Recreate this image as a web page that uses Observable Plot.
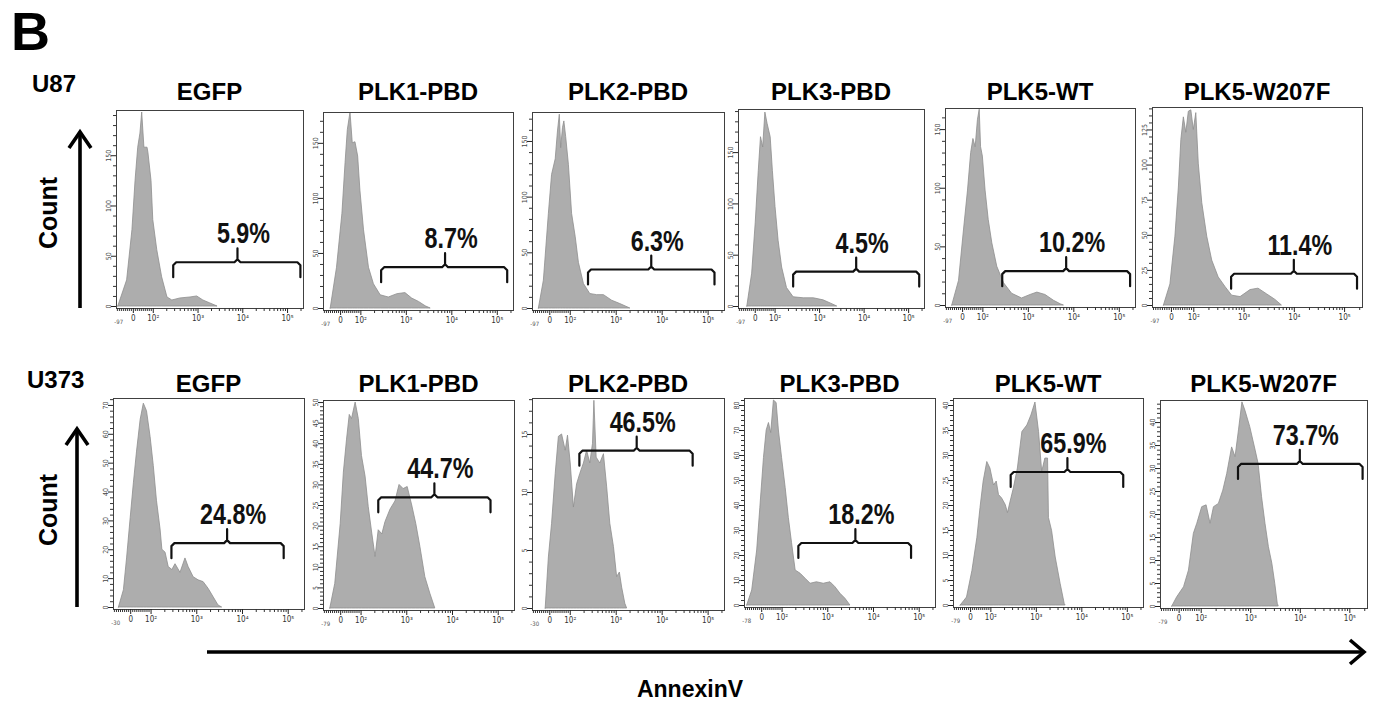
<!DOCTYPE html>
<html><head><meta charset="utf-8">
<script src="https://cdn.jsdelivr.net/npm/d3@7"></script>
<script src="https://cdn.jsdelivr.net/npm/@observablehq/plot@0.6"></script>
<style>
html,body{margin:0;padding:0;background:#fff;}
#fig{position:relative;width:1375px;height:702px;overflow:hidden;background:#fff;}
</style></head><body><div id="fig"></div>
<script>
// ---------------- DATA ----------------
const figureLetter = "B";
const cellLines = ["U87", "U373"];
const conditions = ["EGFP", "PLK1-PBD", "PLK2-PBD", "PLK3-PBD", "PLK5-WT", "PLK5-W207F"];
const yAxisTitle = "Count";
const xAxisTitle = "AnnexinV";

// x positions in biexponential display units (0 → value 0, then one unit per decade)
const xTickU = [0, 0.45, 1.46, 2.47, 3.48];
const xTickLabels = ["0", "10²", "10³", "10⁴", "10⁵"];
const negTickU = -0.33;
const negLabelsU87 = ["-97", "-97", "-97", "-97", "-97", "-97"];
const negLabelsU373 = ["-30", "-79", "-30", "-78", "-79", "-79"];

const percentU87 = ["5.9%", "8.7%", "6.3%", "4.5%", "10.2%", "11.4%"];
const percentU373 = ["24.8%", "44.7%", "46.5%", "18.2%", "65.9%", "73.7%"];

const gateLoU87 = [0.90, 0.90, 0.84, 0.86, 0.88, 1.20];
const gateHiU87 = [3.77, 3.70, 3.62, 3.72, 3.72, 3.73];
const gateMidU87 = [2.35, 2.32, 2.23, 2.29, 2.30, 2.46];
const gateLevelU87 = [44, 37.5, 35, 34, 29.3, 22.6];
const gateLoU373 = [0.90, 0.83, 0.65, 0.81, 0.89, 1.20];
const gateHiU373 = [3.38, 3.31, 3.14, 3.30, 3.39, 3.74];
const gateMidU373 = [2.13, 2.07, 1.91, 2.07, 2.15, 2.46];
const gateLevelU373 = [22.3, 27, 13.6, 25, 26.7, 31];

const yMaxU87 = [195, 178, 176, 192, 168, 141];
const yMaxU373 = [72.4, 50.5, 18.1, 82.8, 41.4, 44.8];
const yMajorU87 = [50, 50, 50, 50, 50, 25];
const yMinorU87 = [10, 10, 10, 10, 10, 5];
const yMajorU373 = [10, 5, 5, 10, 5, 5];
const yMinorU373 = [2, 1, 1, 2, 1, 1];

// histograms: [display unit, count]
const u87_EGFP = [[-0.34,0],[-0.14,26],[-0.02,76],[0.05,125],[0.11,158],[0.16,172],[0.20,193],[0.25,158],[0.32,158],[0.34,153],[0.41,125],[0.45,86],[0.54,56],[0.65,29],[0.77,9],[0.88,6],[1.06,8],[1.29,9],[1.44,10],[1.58,6],[1.74,3],[1.90,0]];
const u87_PLK1 = [[-0.22,0],[-0.08,37],[0.04,86],[0.11,132],[0.16,162],[0.22,178],[0.27,150],[0.33,151],[0.39,138],[0.44,107],[0.52,71],[0.63,37],[0.74,22],[0.89,12],[1.07,10],[1.26,13],[1.44,14],[1.59,9],[1.74,6],[1.89,2],[2.0,0]];
const u87_PLK2 = [[-0.24,0],[-0.13,25],[-0.02,85],[0.05,120],[0.13,134],[0.18,159],[0.22,174],[0.25,144],[0.29,162],[0.32,168],[0.36,154],[0.42,129],[0.49,85],[0.57,64],[0.64,41],[0.75,22],[0.89,13],[1.04,12],[1.19,12],[1.37,7],[1.55,4],[1.77,0]];
const u87_PLK3 = [[-0.18,0],[-0.07,32],[0.01,81],[0.08,132],[0.13,165],[0.18,155],[0.23,189],[0.28,178],[0.35,165],[0.40,132],[0.46,97],[0.53,64],[0.61,38],[0.72,18],[0.87,9],[1.10,8],[1.33,8],[1.55,6],[1.71,3],[1.86,0]];
const u87_PLK5WT = [[-0.23,0],[-0.08,21],[0.03,64],[0.12,98],[0.19,130],[0.24,142],[0.29,135],[0.34,158],[0.38,167],[0.41,135],[0.45,127],[0.51,98],[0.58,73],[0.66,53],[0.77,33],[0.92,19],[1.10,10],[1.32,6],[1.51,9],[1.66,11],[1.84,9],[2.03,4],[2.18,1],[2.25,0]];
const u87_PLK5W207F = [[-0.15,0],[-0.02,15],[0.08,49],[0.15,84],[0.20,118],[0.25,134],[0.30,123],[0.35,138],[0.40,139],[0.45,125],[0.50,137],[0.55,101],[0.62,73],[0.72,49],[0.82,32],[0.95,20],[1.09,13],[1.22,7],[1.39,6],[1.59,11],[1.75,12],[1.92,8],[2.09,4],[2.22,0]];

const u373_EGFP = [[-0.26,0],[-0.15,6],[-0.08,17],[0.0,31],[0.07,43],[0.14,54],[0.22,65],[0.29,70.6],[0.36,68],[0.44,59],[0.51,49],[0.58,37],[0.66,27],[0.70,20],[0.77,19],[0.84,14],[0.92,13],[0.99,15],[1.10,12],[1.21,17],[1.28,14],[1.39,10.5],[1.50,9.4],[1.61,8.8],[1.72,6.5],[1.83,3.6],[1.94,0.7],[2.02,0]];
const u373_PLK1 = [[-0.23,0],[-0.12,6],[0.0,20.5],[0.07,33],[0.14,41],[0.20,47],[0.25,46],[0.33,50],[0.40,46],[0.47,37],[0.55,32],[0.62,24.6],[0.70,18],[0.77,12.5],[0.84,19],[0.92,18],[0.99,21],[1.10,24],[1.21,26],[1.30,30],[1.39,29],[1.48,29.5],[1.58,25],[1.67,20.5],[1.76,15],[1.87,7.6],[1.98,3.6],[2.09,0]];
const u373_PLK2 = [[-0.09,0],[-0.02,4.4],[0.05,7.3],[0.13,11.6],[0.20,14.8],[0.27,15],[0.35,13.6],[0.40,14.9],[0.46,12.5],[0.53,8.7],[0.60,10.7],[0.67,11.6],[0.75,12.5],[0.82,13.6],[0.89,12.5],[0.95,14.2],[0.98,17.9],[1.03,13],[1.11,12.5],[1.19,13.3],[1.26,10.5],[1.33,7.3],[1.41,5.3],[1.48,2.7],[1.54,3.1],[1.59,1.8],[1.66,0.4],[1.70,0]];
const u373_PLK3 = [[-0.32,0],[-0.21,6],[-0.10,22],[-0.03,39],[0.05,59],[0.11,70],[0.16,73],[0.21,69],[0.27,82],[0.33,81],[0.38,70],[0.45,59],[0.53,47],[0.60,35],[0.67,25],[0.75,14],[0.86,12.7],[0.97,10.7],[1.08,8.7],[1.22,9.3],[1.37,8.7],[1.52,9.3],[1.63,7.3],[1.74,4.7],[1.85,2.7],[1.96,0]];
const u373_PLK5WT = [[-0.22,0],[-0.08,1.6],[0.04,6.9],[0.15,13.5],[0.22,19.5],[0.29,24.8],[0.37,28.7],[0.44,27.4],[0.52,24],[0.58,24.8],[0.63,22.1],[0.70,21.4],[0.78,20.1],[0.83,18.5],[0.89,20.8],[0.96,23.4],[1.05,27.4],[1.15,34.7],[1.26,36],[1.35,38],[1.44,40.6],[1.52,34.7],[1.59,26.7],[1.66,29.4],[1.72,29.4],[1.74,17.5],[1.81,14.9],[1.89,9.6],[2.00,4.3],[2.09,0.3],[2.11,0]];
const u373_PLK5W207F = [[-0.14,0],[-0.04,2],[0.10,4.2],[0.20,7.8],[0.30,15.8],[0.37,18],[0.47,21.6],[0.56,22],[0.64,18],[0.71,21.6],[0.81,22.3],[0.90,25.2],[0.98,28.8],[1.08,34.6],[1.15,32.5],[1.22,38.3],[1.29,44.4],[1.35,42.6],[1.45,39],[1.56,33.9],[1.62,31],[1.69,23.8],[1.76,18],[1.83,12.9],[1.90,9.3],[1.96,4.9],[2.01,0.6],[2.03,0]];

// ---------------- LAYOUT (page pixels: left, right, top, zero-baseline) ----------------
const boxesRow = [
  [[116,303,110,306],[323,513,112,308],[532,724,112,308],[738,924,109,306],[945,1135,108,305],[1152,1362,107,305]],
  [[113,304,398,607],[323,514,400,608],[532,724,398,608],[744,935,398,605],[953,1143,398,605],[1160,1367,400,606]]
];
const titleBaseline = [100, 392];
const X_DOMAIN = [-0.38, 3.84];
const FONT = "'Liberation Sans', Arial, Helvetica, sans-serif";
const NARROW = "'Liberation Sans Narrow', 'Arial Narrow', 'DejaVu Sans Condensed', sans-serif";

const rows = [
  {hists:[u87_EGFP,u87_PLK1,u87_PLK2,u87_PLK3,u87_PLK5WT,u87_PLK5W207F], pct:percentU87, lo:gateLoU87, hi:gateHiU87, mid:gateMidU87, lev:gateLevelU87, ymax:yMaxU87, maj:yMajorU87, min:yMinorU87, neg:negLabelsU87},
  {hists:[u373_EGFP,u373_PLK1,u373_PLK2,u373_PLK3,u373_PLK5WT,u373_PLK5W207F], pct:percentU373, lo:gateLoU373, hi:gateHiU373, mid:gateMidU373, lev:gateLevelU373, ymax:yMaxU373, maj:yMajorU373, min:yMinorU373, neg:negLabelsU373}
];

// minor x ticks (biexponential axis)
const xMinor = [];
for (let i = -8; i <= 9; i++) if (i !== 0) xMinor.push(xTickU[0] + i * 0.045);
for (let k = 1; k < xTickU.length; k++) for (let m = 2; m <= 9; m++) {
  const u = xTickU[k] + Math.log10(m) * 1.01;
  if (u < X_DOMAIN[1]) xMinor.push(u);
}
const xLabelMap = new Map(xTickU.map((u, i) => [u, xTickLabels[i]]));

const fig = document.getElementById("fig");

// annotation overlay
const ov = d3.create("svg").attr("width", 1375).attr("height", 702)
  .style("position", "absolute").style("left", "0px").style("top", "0px")
  .attr("font-family", FONT);
ov.append("text").attr("x", 11).attr("y", 50).attr("font-size", 54).attr("font-weight", "bold").text(figureLetter);
const cellY = [92, 388], cellX = [32, 27];
cellLines.forEach((c, r) => ov.append("text").attr("x", cellX[r]).attr("y", cellY[r]).attr("font-size", 24).attr("font-weight", "bold").text(c));
const countY = [213, 510];
countY.forEach(cy => ov.append("text").attr("transform", `translate(57,${cy}) rotate(-90)`).attr("text-anchor", "middle").attr("font-size", 25).attr("font-weight", "bold").text(yAxisTitle));
const arrows = [[80, 308, 131], [77, 607, 428]];
arrows.forEach(([x, y0, y1]) => {
  ov.append("line").attr("x1", x).attr("x2", x).attr("y1", y0).attr("y2", y1 + 2).attr("stroke", "#000").attr("stroke-width", 3.6);
  ov.append("polyline").attr("points", `${x-11},${y1+17} ${x},${y1+1} ${x+11},${y1+17}`).attr("fill", "none").attr("stroke", "#000").attr("stroke-width", 3.6);
});
ov.append("line").attr("x1", 207).attr("x2", 1362).attr("y1", 652).attr("y2", 652).attr("stroke", "#000").attr("stroke-width", 3.6);
ov.append("polyline").attr("points", `1350,640 1364,652 1350,664`).attr("fill", "none").attr("stroke", "#000").attr("stroke-width", 3.6);
ov.append("text").attr("x", 690).attr("y", 697).attr("text-anchor", "middle").attr("font-size", 23).attr("font-weight", "bold").text(xAxisTitle);
rows.forEach((row, r) => boxesRow[r].forEach(([L, R], i) => {
  ov.append("text").attr("x", (L + R) / 2).attr("y", titleBaseline[r]).attr("text-anchor", "middle").attr("font-size", 24).attr("font-weight", "bold").text(conditions[i]);
}));
fig.appendChild(ov.node());

// panels
rows.forEach((row, r) => boxesRow[r].forEach(([L, R, T, B], i) => {
  const ml = 24, mr = 6, mt = 6, mb = 26;
  const plotW = R - L, plotH = B + 2 - T;
  const ymax = row.ymax[i];
  const cpp = ymax / (B - T);          // counts per pixel
  const upp = (X_DOMAIN[1] - X_DOMAIN[0]) / plotW; // units per pixel
  const ymin = -2 * cpp;
  const yMaj = d3.range(0, ymax + 1e-9, row.maj[i]);
  const yMin = d3.range(0, ymax + 1e-9, row.min[i]).filter(v => !yMaj.some(m => Math.abs(m - v) < 1e-9));
  const lo = row.lo[i], hi = row.hi[i], mid = row.mid[i], g = row.lev[i];
  const brace = [
    [lo, g - 15 * cpp], [lo, g - 3 * cpp], [lo + 3 * upp, g], [mid - 3 * upp, g], [mid, g + 3 * cpp], [mid, g + 14 * cpp],
    [mid, g + 3 * cpp], [mid + 3 * upp, g], [hi - 3 * upp, g], [hi, g - 3 * cpp], [hi, g - 15 * cpp]
  ];
  const negMap = new Map([[negTickU, row.neg[i]]]);
  const el = Plot.plot({
    width: ml + plotW + mr, height: mt + plotH + mb,
    marginLeft: ml, marginRight: mr, marginTop: mt, marginBottom: mb,
    x: {domain: X_DOMAIN, axis: null},
    y: {domain: [ymin, ymax], axis: null},
    style: {background: "transparent", overflow: "visible", fontFamily: NARROW},
    marks: [
      Plot.areaY(row.hists[i], {x: d => d[0], y: d => d[1], fill: "#adadad", stroke: "#8e8e8e", strokeWidth: 0.8}),
      Plot.frame({stroke: "#404040", strokeWidth: 1}),
      Plot.axisX({ticks: xTickU, tickFormat: d => xLabelMap.get(d), tickSize: 5, tickPadding: 2, fontSize: 8, stroke: "#222", color: "#333"}),
      Plot.axisX({ticks: xMinor, tickFormat: () => "", tickSize: 3, stroke: "#333"}),
      Plot.axisX({ticks: [negTickU], tickFormat: d => negMap.get(d), tickSize: 0, tickPadding: 11, fontSize: 6, color: "#555"}),
      Plot.axisY({ticks: yMaj, tickSize: 5, tickPadding: 1, tickRotate: -90, fontSize: 7, stroke: "#222", color: "#444", tickFormat: d => String(d)}),
      Plot.axisY({ticks: yMin, tickSize: 3, tickFormat: () => "", stroke: "#333"}),
      Plot.line(brace, {x: d => d[0], y: d => d[1], stroke: "#111", strokeWidth: 2.2, strokeLinejoin: "round", strokeLinecap: "round"}),
      Plot.text([[mid, g]], {x: d => d[0], y: d => d[1], text: () => row.pct[i], dy: -19, dx: 6, lineAnchor: "bottom", fontSize: 29.5, fontWeight: "bold", fill: "#111", fontFamily: FONT})
    ]
  });
  // condense the gate percentage label horizontally (narrow face)
  const labels = el.querySelectorAll('g[aria-label="text"] text');
  labels.forEach(t => {
    const x = +(t.getAttribute("x") || 0), y = +(t.getAttribute("y") || 0);
    const tr = t.getAttribute("transform") || "";
    t.setAttribute("transform", `${tr} translate(${x},${y}) scale(0.79,1) translate(${-x},${-y})`);
  });
  el.style.position = "absolute";
  el.style.left = (L - ml) + "px";
  el.style.top = (T - mt) + "px";
  el.style.maxWidth = "none";
  fig.appendChild(el);
}));
</script></body></html>
